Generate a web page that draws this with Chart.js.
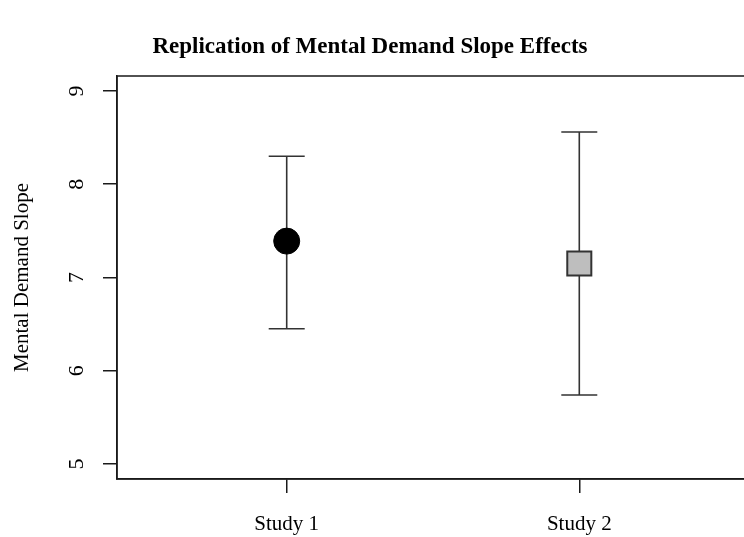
<!DOCTYPE html>
<html>
<head>
<meta charset="utf-8">
<script src="https://cdn.jsdelivr.net/npm/chart.js@4/dist/chart.umd.min.js"></script>
<style>
  html, body { margin: 0; padding: 0; overflow: hidden; background: #fff; width: 744px; height: 537px; }
  #wrap { position: relative; width: 768px; height: 537px; }
</style>
</head>
<body>
<div id="wrap"><canvas id="c" width="768" height="537"></canvas></div>
<script>
// Replication estimates of the mental demand slope, with interval bounds
const studies = ['Study 1', 'Study 2'];
const studyX = [1, 2];
const slopeMeans = [7.39, 7.15];
const ciLower = [6.45, 5.74];
const ciUpper = [8.30, 8.56];
const yTicks = [5, 6, 7, 8, 9];

const SERIF = '"Liberation Serif", "Times New Roman", serif';
const INK = '#1a1a1a';

// Frame around the plotting region, as in a base-graphics box()
const boxPlugin = {
  id: 'box',
  afterDraw(chart) {
    const { ctx, chartArea: a } = chart;
    ctx.save();
    ctx.strokeStyle = INK;
    ctx.lineWidth = 1.5;
    ctx.strokeRect(a.left, a.top, a.right - a.left, a.bottom - a.top);
    ctx.restore();
  }
};

// Vertical interval lines with flat caps, drawn under the point markers
const errorBars = {
  id: 'errorBars',
  beforeDatasetsDraw(chart) {
    const { ctx, scales: { x, y } } = chart;
    ctx.save();
    ctx.strokeStyle = '#333';
    ctx.lineWidth = 1.6;
    for (let i = 0; i < studyX.length; i++) {
      const px = x.getPixelForValue(studyX[i]);
      const lo = y.getPixelForValue(ciLower[i]);
      const hi = y.getPixelForValue(ciUpper[i]);
      const cap = 18;
      ctx.beginPath();
      ctx.moveTo(px, lo); ctx.lineTo(px, hi);
      ctx.moveTo(px - cap, lo); ctx.lineTo(px + cap, lo);
      ctx.moveTo(px - cap, hi); ctx.lineTo(px + cap, hi);
      ctx.stroke();
    }
    ctx.restore();
  }
};

// Title, rotated y tick labels and rotated y-axis title
const textPlugin = {
  id: 'texts',
  afterDraw(chart) {
    const { ctx, chartArea: a, scales: { y } } = chart;
    ctx.save();
    ctx.fillStyle = '#000';
    ctx.textAlign = 'center';
    ctx.textBaseline = 'middle';
    ctx.font = 'bold 23px ' + SERIF;
    ctx.fillText('Replication of Mental Demand Slope Effects', 370, 47);

    ctx.font = '22px ' + SERIF;
    for (const v of yTicks) {
      const py = y.getPixelForValue(v);
      ctx.save();
      ctx.translate(77, py);
      ctx.rotate(-Math.PI / 2);
      ctx.fillText(String(v), 0, 0);
      ctx.restore();
    }
    ctx.font = '21px ' + SERIF;
    ctx.save();
    ctx.translate(22, (a.top + a.bottom) / 2);
    ctx.rotate(-Math.PI / 2);
    ctx.fillText('Mental Demand Slope', 0, 0);
    ctx.restore();
    ctx.restore();
  }
};

new Chart(document.getElementById('c'), {
  type: 'scatter',
  data: {
    datasets: [{
      data: studyX.map((v, i) => ({ x: v, y: slopeMeans[i] })),
      pointStyle: ['circle', 'rect'],
      pointRadius: [13, 17],
      pointHoverRadius: [13, 17],
      pointBackgroundColor: ['#000000', '#bebebe'],
      pointBorderColor: ['#000000', '#333333'],
      pointBorderWidth: [1, 2],
      showLine: false
    }]
  },
  options: {
    responsive: false,
    animation: false,
    devicePixelRatio: 1,
    layout: { padding: { top: 76, right: 0, left: 0, bottom: 0 } },
    plugins: { legend: { display: false }, tooltip: { enabled: false }, title: { display: false } },
    scales: {
      x: {
        type: 'linear',
        min: 0.42,
        max: 2.58,
        afterBuildTicks: s => { s.ticks = studyX.map(v => ({ value: v })); },
        afterFit: s => { s.height = 58; s.paddingRight = 0; s.paddingLeft = 0; },
        ticks: {
          callback: v => studies[studyX.indexOf(v)],
          font: { family: SERIF, size: 21 },
          color: '#000',
          padding: 19,
          maxRotation: 0,
          autoSkip: false
        },
        grid: { drawOnChartArea: false, drawTicks: true, tickLength: 14, color: INK, lineWidth: 1.5 },
        border: { display: true, color: INK, width: 1.5 }
      },
      y: {
        type: 'linear',
        min: 4.84,
        max: 9.16,
        afterBuildTicks: s => { s.ticks = yTicks.map(v => ({ value: v })); },
        afterFit: s => { s.width = 117; },
        ticks: { color: 'rgba(0,0,0,0)', font: { family: SERIF, size: 21 }, padding: 4 },
        grid: { drawOnChartArea: false, drawTicks: true, tickLength: 14, color: INK, lineWidth: 1.5 },
        border: { display: true, color: INK, width: 1.5 }
      }
    }
  },
  plugins: [errorBars, boxPlugin, textPlugin]
});
</script>
</body>
</html>
